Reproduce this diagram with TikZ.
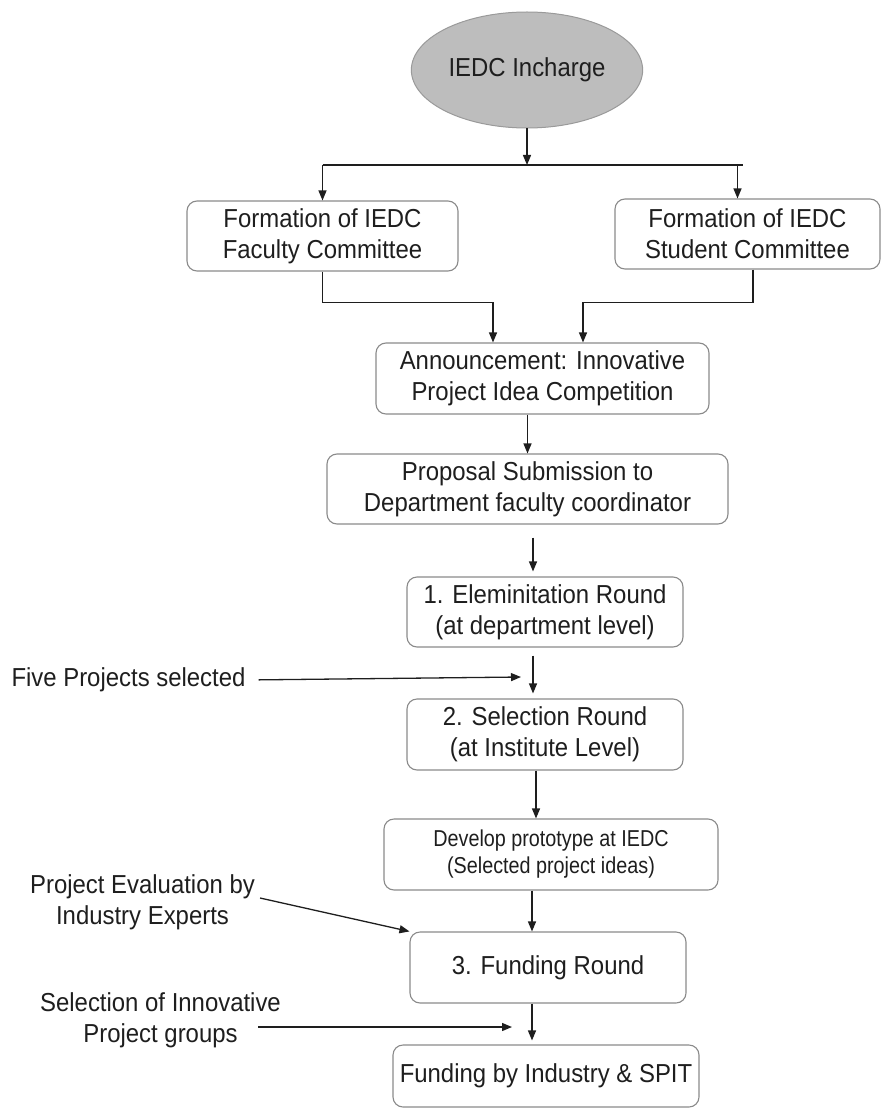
\documentclass[tikz,border=0pt]{standalone}
\usepackage{fontspec}
\setmainfont{Liberation Sans}[FakeStretch=0.92]
\newfontfamily\narrowface{Liberation Sans}[FakeStretch=0.86]
\usetikzlibrary{shapes.geometric, positioning, arrows.meta}
\usepackage{xcolor}
\definecolor{BoxGray}{HTML}{8A8A8A}
\definecolor{HeadFill}{HTML}{BDBDBD}
\definecolor{HeadLine}{HTML}{9A9A9A}
\definecolor{InkDark}{HTML}{1E1E1E}

\begin{document}
\begin{tikzpicture}[x=1pt, y=-1pt,
    every node/.style={font=\fontsize{26}{31}\selectfont, text=InkDark},
    stage/.style={draw=BoxGray, line width=1.1pt, rounded corners=10pt, align=center, inner sep=0pt},
    flow/.style={-{Triangle[length=10pt, width=8pt]}, line width=1.3pt, draw=InkDark},
    sidenote/.style={align=center, inner sep=0pt}]
            \useasboundingbox (0,0) rectangle (883,1110);

            % Head (top centre)
            \node[ellipse, draw=HeadLine, fill=HeadFill, line width=1pt, minimum width=227pt, minimum height=116pt] (incharge) at (527,70) {IEDC Incharge};

            % Committees (left and right)
            \node[stage, minimum width=271pt, minimum height=70pt] (faculty) at (322.5,236) {Formation of IEDC\\Faculty Committee};
            \node[stage, minimum width=265pt, minimum height=70pt] (student) at (747.5,234) {Formation of IEDC\\Student Committee};

            % Announcement and proposals (centre)
            \node[stage, minimum width=333pt, minimum height=71pt] (announce) at (542.5,378.5) {Announcement: Innovative\\Project Idea Competition};
            \node[stage, minimum width=401pt, minimum height=70pt] (proposal) at (527.5,489) {Proposal Submission to\\Department faculty coordinator};

            % Rounds 1 and 2
            \node[stage, minimum width=276pt, minimum height=70pt] (elim) at (545,612) {1. Eleminitation Round\\(at department level)};
            \node[stage, minimum width=276pt, minimum height=71pt] (select) at (545,734.5) {2. Selection Round\\(at Institute Level)};

            % Prototype, round 3 and funding (bottom)
            \node[stage, minimum width=334pt, minimum height=71pt, font=\narrowface\fontsize{23}{27}\selectfont] (develop) at (551,854.5) {Develop prototype at IEDC\\(Selected project ideas)};
            \node[stage, minimum width=276pt, minimum height=71pt] (fround) at (548,967.5) {3. Funding Round};
            \node[stage, minimum width=306pt, minimum height=62pt] (fund) at (546,1076) {Funding by Industry \& SPIT};

            % Side notes (left)
            \node[sidenote] (five) at (128.5,680) {Five Projects selected};
            \node[sidenote] (peval) at (142.5,902) {Project Evaluation by\\Industry Experts};
            \node[sidenote] (pickgroups) at (160.5,1020) {Selection of Innovative\\Project groups};

            \coordinate (split) at (527,165);
            \coordinate (fivetip) at (521,677);
            \coordinate (grouptip) at (512,1027);

            % Arrows (split to committees, then merge into the announcement)
            \draw[flow] (incharge) -- (split);
            \draw[line width=1.3pt, draw=InkDark] (faculty.north |- split) -- ([xshift=-4.5pt]student.north |- split);
            \draw[flow] (faculty.north |- split) -- (faculty.north);
            \draw[flow] ([xshift=-10pt]student.north |- split) -- ([xshift=-10pt]student.north);
            \draw[flow] (faculty.south) -- ++(0,31) -| ([xshift=-49.5pt]announce.north);
            \draw[flow] ([xshift=5.5pt]student.south) -- ++(0,33) -| ([xshift=40.5pt]announce.north);

            % Arrows down the middle
            \draw[flow] (proposal.north |- announce.south) -- (proposal.north);
            \draw[flow, shorten <=13pt, shorten >=5pt] ([xshift=-12pt]elim.north |- proposal.south) -- ([xshift=-12pt]elim.north);
            \draw[flow, shorten <=8pt, shorten >=5pt] ([xshift=-12pt]select.north |- elim.south) -- ([xshift=-12pt]select.north);
            \draw[flow] ([xshift=-15pt]develop.north |- select.south) -- ([xshift=-15pt]develop.north);
            \draw[flow] ([xshift=-16pt]fround.north |- develop.south) -- ([xshift=-16pt]fround.north);
            \draw[flow, shorten >=4pt] ([xshift=-14pt]fund.north |- fround.south) -- ([xshift=-14pt]fund.north);

            % Arrows from the side notes
            \draw[flow, shorten <=13pt] (five.east) -- (fivetip);
            \draw[flow] ([shift={(5,-4)}]peval.east) -- (fround.north west);
            \draw[flow] ([shift={(-23,7)}]pickgroups.east) -- (grouptip);
        \end{tikzpicture}
\end{document}
